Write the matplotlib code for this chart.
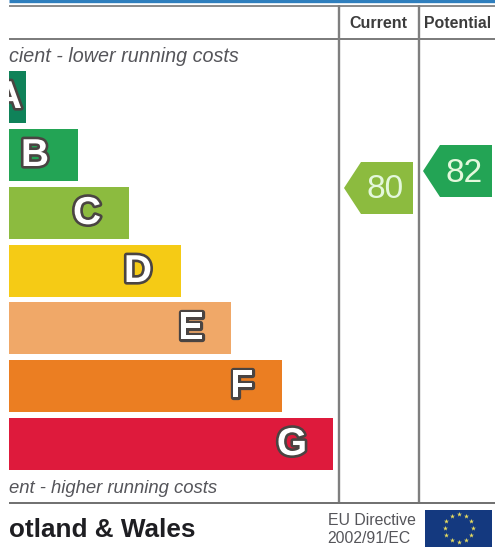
import numpy as np
import matplotlib

matplotlib.use("Agg")
import matplotlib.pyplot as plt
import matplotlib.patheffects as pe
from matplotlib.patches import Polygon, Rectangle

W, H = 495, 551
LEFT = 9

bands = ["A", "B", "C", "D", "E", "F", "G"]
band_right = [26, 78, 129, 181, 231, 282, 333]
band_mid = [97, 155, 213, 271, 328, 386, 444]
band_colors = ["#0F8259", "#23A455", "#8CBB3F", "#F5CB15", "#F0A868", "#EB7E22", "#DE1A3C"]
band_text_x = [8, 35, 87, 138, 191, 242, 292]

scores = [80, 82]
score_tip = [344, 423]
score_mid = [188, 171]
score_colors = ["#8CBB3F", "#23A455"]

plt.rcParams["font.family"] = ["Liberation Sans", "DejaVu Sans"]

fig = plt.figure(figsize=(W / 100, H / 100), dpi=100)
ax = fig.add_axes([0, 0, 1, 1])
ax.set_xlim(0, W)
ax.set_ylim(H, 0)
ax.axis("off")

# rating bars
ax.barh(band_mid, band_right, height=52, color=band_colors, lw=0)
outline = [pe.withStroke(linewidth=3.8, foreground="#4A4442")]
for name, x, y in zip(bands, band_text_x, band_mid):
    ax.text(x, y + 1, name, color="white", fontsize=28, fontweight="bold", ha="center",
            va="center", path_effects=outline)

# score arrows
for val, tip, y, col in zip(scores, score_tip, score_mid, score_colors):
    ax.add_patch(Polygon([(tip, y), (tip + 17, y - 26), (tip + 69, y - 26),
                          (tip + 69, y + 26), (tip + 17, y + 26)], fc=col, ec="none"))
    ax.text(tip + 41, y + 2, str(val), color="#E4F8DC", fontsize=24, ha="center", va="center")

# frame
ax.plot([LEFT, W], [1.2, 1.2], color="#2F7FBE", lw=2.4, solid_capstyle="butt")
ax.plot([LEFT, W], [5.5, 5.5], color="#8A8A8A", lw=1.4, solid_capstyle="butt")
ax.plot([LEFT, W], [38.5, 38.5], color="#7A7A7A", lw=1.4, solid_capstyle="butt")
ax.plot([LEFT, W], [502.5, 502.5], color="#6F6F6F", lw=1.4, solid_capstyle="butt")
for x in (339, 418.5):
    ax.plot([x, x], [5, 502], color="#7F7F7F", lw=1.7, solid_capstyle="butt")

# left edge is cut off in the source image
ax.add_patch(Rectangle((0, 0), LEFT, H, fc="white", ec="none", zorder=5))

ax.text(378, 23, "Current", color="#3C3C3C", fontsize=11.5, fontweight="bold", ha="center", va="center")
ax.text(457.5, 23, "Potential", color="#3C3C3C", fontsize=11.4, fontweight="bold", ha="center", va="center")
ax.text(9, 56.5, "cient - lower running costs", color="#55555A", fontsize=14.2, style="italic", va="center", zorder=6)
ax.text(9, 488.5, "ent - higher running costs", color="#55555A", fontsize=13.3, style="italic", va="center", zorder=6)
ax.text(9, 530, "otland & Wales", color="#1E1E22", fontsize=18.8, fontweight="bold", va="center", zorder=6)
ax.text(416, 520.5, "EU Directive", color="#55555A", fontsize=11.4, ha="right", va="center")
ax.text(327, 538.5, "2002/91/EC", color="#55555A", fontsize=11.3, ha="left", va="center")

# EU flag
ax.add_patch(Rectangle((425, 510), 67, 37, fc="#14397F", ec="none"))
ang = np.arange(12) * np.pi / 6
ax.scatter(458.5 + 14 * np.cos(ang), 528 + 14 * np.sin(ang), marker="*", s=14, color="#E8DC60", lw=0)

fig.savefig("out.png", dpi=100, facecolor="white")
